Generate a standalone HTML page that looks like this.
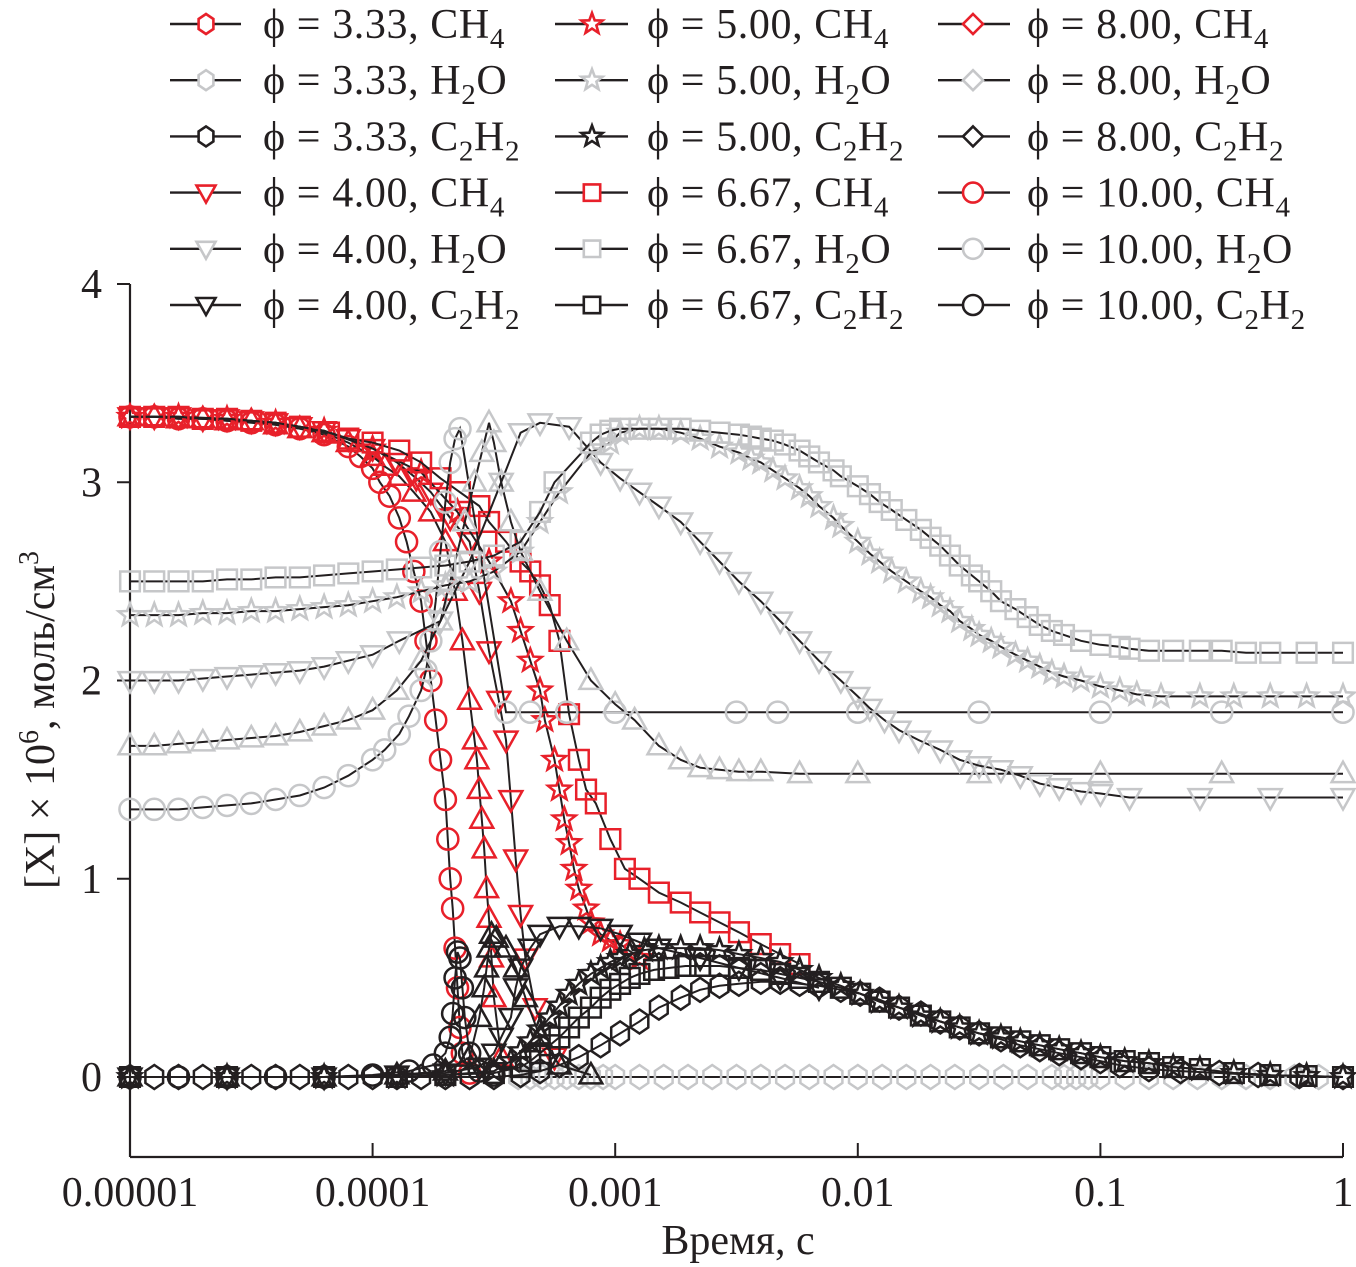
<!DOCTYPE html>
<html><head><meta charset="utf-8"><style>
body{margin:0;background:#fff;}
svg{display:block;font-family:"Liberation Serif",serif;}
</style></head><body>
<svg id="chart" width="1356" height="1267" viewBox="0 0 1356 1267" xmlns="http://www.w3.org/2000/svg">
<g id="legend"></g>
<g id="axes"></g>
<g id="plot"></g>
</svg>
<script>
// x values: log10(time, s)
const yTicks=[0,1,2,3,4];
const xTickLabels=["0.00001","0.0001","0.001","0.01","0.1","1"];
const xTickLg=[-5,-4,-3,-2,-1,0];

const ch4_100_t=[-5,-4.9,-4.8,-4.7,-4.6,-4.5,-4.4,-4.3,-4.2,-4.1,-4.05,-4.0,-3.97,-3.93,-3.89,-3.86,-3.83,-3.80,-3.78,-3.76,-3.74,-3.72,-3.70,-3.69,-3.68,-3.67,-3.66,-3.65,-3.64,-3.63,-3.60];
const ch4_100_v=[3.33,3.33,3.32,3.32,3.31,3.30,3.29,3.27,3.24,3.18,3.13,3.07,3.0,2.93,2.82,2.7,2.55,2.4,2.2,2.0,1.8,1.6,1.4,1.2,1.0,0.85,0.65,0.45,0.25,0.12,0.02];
const ch4_80_t=[-5,-4.9,-4.8,-4.7,-4.6,-4.5,-4.4,-4.3,-4.2,-4.1,-4.0,-3.95,-3.89,-3.83,-3.76,-3.70,-3.66,-3.63,-3.60,-3.58,-3.57,-3.56,-3.55,-3.54,-3.53,-3.52,-3.51,-3.50,-3.47];
const ch4_80_v=[3.33,3.33,3.32,3.32,3.31,3.31,3.29,3.27,3.25,3.2,3.13,3.08,3.03,2.95,2.85,2.7,2.45,2.2,1.9,1.7,1.6,1.45,1.3,1.15,0.95,0.8,0.6,0.4,0.1];
const ch4_40_t=[-5,-4.9,-4.8,-4.7,-4.6,-4.5,-4.4,-4.3,-4.2,-4.1,-4.0,-3.9,-3.82,-3.76,-3.68,-3.60,-3.56,-3.52,-3.48,-3.45,-3.43,-3.41,-3.39,-3.37,-3.33,-3.25];
const ch4_40_v=[3.33,3.33,3.33,3.32,3.32,3.31,3.3,3.28,3.26,3.22,3.17,3.1,3.02,2.95,2.82,2.7,2.45,2.15,1.9,1.7,1.4,1.1,0.82,0.6,0.35,0.1];
const ch4_50_t=[-5,-4.8,-4.6,-4.4,-4.2,-4.0,-3.8,-3.65,-3.52,-3.43,-3.39,-3.35,-3.31,-3.29,-3.25,-3.23,-3.21,-3.19,-3.17,-3.15,-3.12,-3.10,-3.06,-3.02,-2.98,-2.9];
const ch4_50_v=[3.33,3.33,3.32,3.3,3.26,3.17,3.05,2.85,2.6,2.4,2.25,2.1,1.95,1.8,1.6,1.45,1.3,1.18,1.05,0.95,0.85,0.78,0.72,0.69,0.67,0.6];
const ch4_67_t=[-5,-4.9,-4.8,-4.7,-4.6,-4.5,-4.4,-4.3,-4.18,-4.1,-4.0,-3.89,-3.8,-3.72,-3.64,-3.56,-3.52,-3.45,-3.39,-3.35,-3.31,-3.27,-3.23,-3.19,-3.15,-3.12,-3.08,-3.02,-2.96,-2.90,-2.82,-2.73,-2.65,-2.57,-2.49,-2.40,-2.32,-2.24];
const ch4_67_v=[3.33,3.33,3.33,3.32,3.32,3.31,3.3,3.28,3.25,3.22,3.2,3.16,3.1,3.02,2.95,2.88,2.8,2.7,2.6,2.55,2.48,2.38,2.2,1.83,1.6,1.45,1.38,1.2,1.05,1.0,0.93,0.88,0.83,0.78,0.73,0.67,0.62,0.57];

const h2o_100_t=[-5,-4.9,-4.8,-4.7,-4.6,-4.5,-4.4,-4.3,-4.2,-4.1,-4.0,-3.95,-3.89,-3.85,-3.80,-3.78,-3.76,-3.74,-3.72,-3.70,-3.68,-3.66,-3.64,-3.45,-3.35,-3.2,-3.0,-2.5,-2.33,-2.0,-1.5,-1.0,-0.5,0];
const h2o_100_v=[1.35,1.35,1.35,1.36,1.37,1.38,1.4,1.42,1.46,1.52,1.6,1.65,1.73,1.82,1.95,2.05,2.2,2.4,2.65,2.9,3.1,3.22,3.27,1.84,1.84,1.84,1.84,1.84,1.84,1.84,1.84,1.84,1.84,1.84];
const h2o_80_t=[-5,-4.9,-4.8,-4.7,-4.6,-4.5,-4.4,-4.3,-4.2,-4.1,-4.0,-3.9,-3.8,-3.72,-3.68,-3.62,-3.58,-3.55,-3.52,-3.50,-3.47,-3.43,-3.39,-3.31,-3.2,-3.1,-3.0,-2.92,-2.82,-2.73,-2.65,-2.57,-2.49,-2.4,-2.24,-2.0,-1.5,-1.0,-0.5,0];
const h2o_80_v=[1.67,1.67,1.68,1.69,1.7,1.71,1.72,1.74,1.77,1.8,1.85,1.95,2.1,2.3,2.5,2.8,3.0,3.15,3.3,3.2,3.0,2.8,2.65,2.45,2.2,2.0,1.88,1.8,1.67,1.6,1.56,1.55,1.54,1.54,1.53,1.53,1.53,1.53,1.53,1.53];
const h2o_40_t=[-5,-4.9,-4.8,-4.7,-4.6,-4.5,-4.4,-4.3,-4.2,-4.1,-4.0,-3.89,-3.72,-3.60,-3.47,-3.39,-3.31,-3.19,-3.06,-2.98,-2.90,-2.82,-2.73,-2.65,-2.57,-2.49,-2.40,-2.32,-2.24,-2.16,-2.07,-2.0,-1.95,-1.89,-1.83,-1.75,-1.66,-1.58,-1.5,-1.41,-1.33,-1.25,-1.17,-1.08,-1.0,-0.88,-0.59,-0.3,0];
const h2o_40_v=[2.0,2.0,2.0,2.01,2.02,2.03,2.04,2.05,2.07,2.1,2.13,2.2,2.3,2.6,3.0,3.25,3.3,3.28,3.1,3.02,2.95,2.88,2.8,2.7,2.6,2.5,2.4,2.3,2.2,2.1,2.0,1.92,1.86,1.8,1.75,1.7,1.65,1.6,1.57,1.55,1.52,1.48,1.46,1.44,1.43,1.41,1.41,1.41,1.41];
const h2o_50_t=[-5,-4.9,-4.8,-4.7,-4.6,-4.5,-4.4,-4.3,-4.2,-4.1,-4.0,-3.9,-3.8,-3.7,-3.6,-3.5,-3.39,-3.31,-3.23,-3.10,-3.02,-2.98,-2.9,-2.82,-2.73,-2.65,-2.57,-2.49,-2.44,-2.40,-2.35,-2.3,-2.24,-2.2,-2.16,-2.1,-2.07,-2.0,-1.95,-1.91,-1.86,-1.8,-1.74,-1.7,-1.66,-1.62,-1.58,-1.53,-1.5,-1.45,-1.41,-1.35,-1.3,-1.25,-1.2,-1.15,-1.08,-1.0,-0.92,-0.85,-0.75,-0.59,-0.45,-0.3,-0.15,0];
const h2o_50_v=[2.33,2.33,2.33,2.34,2.34,2.35,2.35,2.36,2.37,2.38,2.4,2.42,2.45,2.48,2.5,2.55,2.65,2.8,2.95,3.15,3.2,3.25,3.27,3.27,3.25,3.22,3.18,3.15,3.12,3.1,3.06,3.02,2.97,2.93,2.88,2.82,2.78,2.7,2.64,2.6,2.55,2.5,2.45,2.42,2.38,2.35,2.3,2.26,2.23,2.2,2.17,2.13,2.1,2.07,2.04,2.02,2.0,1.97,1.95,1.93,1.92,1.92,1.92,1.92,1.92,1.92];
const h2o_67_t=[-5,-4.9,-4.8,-4.7,-4.6,-4.5,-4.4,-4.3,-4.2,-4.1,-4.0,-3.9,-3.8,-3.7,-3.6,-3.5,-3.39,-3.31,-3.25,-3.10,-3.06,-3.02,-2.98,-2.9,-2.82,-2.73,-2.65,-2.57,-2.49,-2.44,-2.40,-2.35,-2.3,-2.24,-2.2,-2.16,-2.1,-2.07,-2.0,-1.95,-1.91,-1.86,-1.8,-1.74,-1.7,-1.66,-1.62,-1.58,-1.53,-1.5,-1.45,-1.41,-1.35,-1.3,-1.25,-1.2,-1.15,-1.08,-1.0,-0.92,-0.88,-0.8,-0.7,-0.59,-0.5,-0.4,-0.3,-0.15,0];
const h2o_67_v=[2.5,2.5,2.5,2.5,2.51,2.51,2.52,2.52,2.53,2.54,2.55,2.56,2.57,2.58,2.6,2.63,2.7,2.85,3.0,3.2,3.24,3.26,3.27,3.27,3.27,3.27,3.26,3.25,3.24,3.23,3.22,3.21,3.19,3.16,3.13,3.1,3.06,3.03,2.98,2.94,2.9,2.86,2.81,2.76,2.72,2.68,2.63,2.58,2.53,2.5,2.45,2.4,2.36,2.32,2.28,2.25,2.23,2.2,2.18,2.17,2.16,2.15,2.15,2.15,2.15,2.14,2.14,2.14,2.14];
const h2o_33_t=[-3.4,-3.35,-3.3,-3.25,-3.2,-3.15,-3.1,-3.05,-3.0,-2.9,-2.8,-2.7,-2.6,-2.5,-2.4,-2.3,-2.2,-2.1,-2.0,-1.9,-1.8,-1.7,-1.6,-1.5,-1.4,-1.3,-1.2,-1.15,-1.1,-1.05,-1.0,-0.9,-0.8,-0.7,-0.6,-0.5,-0.4,-0.3,-0.2,-0.1,0];
const h2o_33_v=[0,0,0,0,0,0,0,0,0,0,0,0,0,0,0,0,0,0,0,0,0,0,0,0,0,0,0,0,0,0,0,0,0,0,0,0,0,0,0,0,0];

const c2h2_100_t=[-5,-4.8,-4.6,-4.4,-4.2,-4.0,-3.85,-3.75,-3.70,-3.68,-3.67,-3.66,-3.65,-3.64,-3.63,-3.62,-3.60,-3.56,-3.5];
const c2h2_100_v=[0,0,0,0,0,0.01,0.03,0.06,0.12,0.2,0.32,0.5,0.63,0.6,0.45,0.3,0.12,0.03,0.01];
const c2h2_80_t=[-5,-4.6,-4.2,-3.9,-3.7,-3.6,-3.56,-3.54,-3.53,-3.52,-3.51,-3.49,-3.45,-3.41,-3.37,-3.31,-3.23,-3.1];
const c2h2_80_v=[0,0,0,0.01,0.03,0.1,0.3,0.45,0.55,0.65,0.72,0.7,0.65,0.55,0.4,0.2,0.06,0.01];
const c2h2_40_t=[-5,-4.6,-4.2,-3.9,-3.7,-3.56,-3.50,-3.47,-3.43,-3.41,-3.39,-3.35,-3.31,-3.23,-3.15,-3.06,-2.98,-2.90,-2.82,-2.65,-2.49,-2.32,-2.16];
const c2h2_40_v=[0,0,0,0.01,0.02,0.05,0.12,0.2,0.3,0.45,0.55,0.65,0.72,0.76,0.76,0.75,0.72,0.68,0.65,0.6,0.55,0.5,0.45];
const c2h2_50_t=[-5,-4.6,-4.2,-3.9,-3.7,-3.5,-3.43,-3.39,-3.35,-3.31,-3.27,-3.23,-3.19,-3.15,-3.10,-3.06,-3.02,-2.98,-2.94,-2.88,-2.82,-2.73,-2.65,-2.57,-2.49,-2.4,-2.32,-2.24,-2.16,-2.07,-1.99,-1.91,-1.83,-1.74,-1.66,-1.58,-1.5,-1.41,-1.33,-1.25,-1.17,-1.08,-1.0,-0.9,-0.8,-0.7,-0.59,-0.45,-0.3,-0.15,0];
const c2h2_50_v=[0,0,0,0,0.01,0.03,0.08,0.13,0.18,0.24,0.3,0.36,0.42,0.47,0.52,0.55,0.58,0.6,0.62,0.64,0.65,0.65,0.65,0.64,0.62,0.6,0.58,0.54,0.5,0.46,0.42,0.38,0.35,0.31,0.28,0.25,0.22,0.2,0.18,0.16,0.14,0.12,0.1,0.08,0.07,0.05,0.04,0.02,0.01,0.005,0];
const c2h2_67_t=[-5,-4.6,-4.2,-3.9,-3.7,-3.5,-3.39,-3.35,-3.31,-3.27,-3.23,-3.19,-3.15,-3.10,-3.06,-3.02,-2.98,-2.94,-2.90,-2.84,-2.78,-2.71,-2.65,-2.57,-2.49,-2.4,-2.32,-2.24,-2.16,-2.07,-1.99,-1.91,-1.83,-1.74,-1.66,-1.58,-1.5,-1.41,-1.33,-1.25,-1.17,-1.08,-1.0,-0.9,-0.8,-0.7,-0.59,-0.45,-0.3,-0.15,0];
const c2h2_67_v=[0,0,0,0,0.01,0.02,0.05,0.08,0.12,0.16,0.2,0.25,0.3,0.35,0.4,0.44,0.47,0.5,0.52,0.54,0.55,0.56,0.56,0.56,0.55,0.54,0.52,0.5,0.48,0.45,0.42,0.38,0.35,0.31,0.28,0.25,0.22,0.2,0.18,0.16,0.14,0.12,0.1,0.08,0.07,0.05,0.04,0.02,0.01,0.005,0];
const c2h2_33_t=[-5,-4.9,-4.8,-4.7,-4.6,-4.5,-4.4,-4.3,-4.2,-4.1,-4.0,-3.9,-3.8,-3.7,-3.6,-3.5,-3.39,-3.31,-3.23,-3.15,-3.06,-2.98,-2.90,-2.82,-2.73,-2.65,-2.57,-2.49,-2.40,-2.32,-2.24,-2.16,-2.07,-1.99,-1.91,-1.83,-1.74,-1.66,-1.58,-1.50,-1.41,-1.33,-1.25,-1.17,-1.08,-1.0,-0.92,-0.80,-0.67,-0.51,-0.35,-0.18,0];
const c2h2_33_v=[0,0,0,0,0,0,0,0,0,0,0,0,0,0,0,0,0.01,0.03,0.06,0.1,0.16,0.22,0.28,0.35,0.4,0.44,0.46,0.47,0.48,0.48,0.47,0.46,0.44,0.42,0.39,0.35,0.32,0.28,0.25,0.22,0.19,0.16,0.14,0.12,0.1,0.08,0.06,0.04,0.03,0.02,0.01,0.005,0];

const X0=130,X1=1343,Y0=1077,YU=198.25;
function xS(lg){return X0+(lg+5)*(X1-X0)/5;}
function yS(v){return Y0-v*YU;}
const NS="http://www.w3.org/2000/svg";
function mk(tag,attrs,parent){const e=document.createElementNS(NS,tag);for(const k in attrs)e.setAttribute(k,attrs[k]);parent.appendChild(e);return e;}

function markerPath(type,cx,cy,r){
  let pts=[];
  if(type==='hex'){for(let i=0;i<6;i++){const a=Math.PI/2+i*Math.PI/3;pts.push([cx+r*0.85*Math.cos(a),cy-r*Math.sin(a)]);}}
  else if(type==='tu'){pts=[[cx,cy-r],[cx+r*0.95,cy+r*0.7],[cx-r*0.95,cy+r*0.7]];}
  else if(type==='td'){pts=[[cx,cy+r],[cx+r*0.95,cy-r*0.7],[cx-r*0.95,cy-r*0.7]];}
  else if(type==='sq'){const s=r*0.82;pts=[[cx-s,cy-s],[cx+s,cy-s],[cx+s,cy+s],[cx-s,cy+s]];}
  else if(type==='dia'){pts=[[cx,cy-r],[cx+r,cy],[cx,cy+r],[cx-r,cy]];}
  else if(type==='star'){for(let i=0;i<10;i++){const a=Math.PI/2+i*Math.PI/5;const rr=i%2?r*0.42:r;pts.push([cx+rr*Math.cos(a),cy-rr*Math.sin(a)]);}}
  return 'M'+pts.map(p=>p[0].toFixed(1)+','+p[1].toFixed(1)).join('L')+'Z';
}
function drawMarker(g,type,cx,cy,r,color,sw){
  if(type==='circ'){return mk('circle',{cx:cx,cy:cy,r:r*0.88,fill:'none',stroke:color,'stroke-width':sw},g);}
  return mk('path',{d:markerPath(type,cx,cy,r),fill:'none',stroke:color,'stroke-width':sw,'stroke-linejoin':'miter'},g);
}

const RED='#e8202a',GRAY='#c6c7c9',BLK='#231f20';
const plot=document.getElementById('plot');
const seriesList=[
 ['ch4-phi-10.00',ch4_100_t,ch4_100_v,'circ',RED],
 ['ch4-phi-8.00',ch4_80_t,ch4_80_v,'tu',RED],
 ['ch4-phi-4.00',ch4_40_t,ch4_40_v,'td',RED],
 ['ch4-phi-5.00',ch4_50_t,ch4_50_v,'star',RED],
 ['ch4-phi-6.67',ch4_67_t,ch4_67_v,'sq',RED],
 ['h2o-phi-3.33',h2o_33_t,h2o_33_v,'hex',GRAY],
 ['h2o-phi-10.00',h2o_100_t,h2o_100_v,'circ',GRAY],
 ['h2o-phi-8.00',h2o_80_t,h2o_80_v,'tu',GRAY],
 ['h2o-phi-4.00',h2o_40_t,h2o_40_v,'td',GRAY],
 ['h2o-phi-5.00',h2o_50_t,h2o_50_v,'star',GRAY],
 ['h2o-phi-6.67',h2o_67_t,h2o_67_v,'sq',GRAY],
 ['c2h2-phi-10.00',c2h2_100_t,c2h2_100_v,'circ',BLK],
 ['c2h2-phi-8.00',c2h2_80_t,c2h2_80_v,'tu',BLK],
 ['c2h2-phi-4.00',c2h2_40_t,c2h2_40_v,'td',BLK],
 ['c2h2-phi-5.00',c2h2_50_t,c2h2_50_v,'star',BLK],
 ['c2h2-phi-6.67',c2h2_67_t,c2h2_67_v,'sq',BLK],
 ['c2h2-phi-3.33',c2h2_33_t,c2h2_33_v,'hex',BLK]
];
seriesList.forEach(s=>{
  const [name,ts,vs,type,col]=s;
  const g=mk('g',{},plot);
  
  
  const ln=mk('polyline',{points:ts.map((t,i)=>xS(t).toFixed(1)+','+yS(vs[i]).toFixed(1)).join(' '),fill:'none',stroke:BLK,'stroke-width':2},g);
  
  
  ts.forEach((t,i)=>{
    const m=drawMarker(g,type,xS(t),yS(vs[i]),12,col,2.5);
    
    
  });
});

// axes
const ax=document.getElementById('axes');
const yl=mk('line',{x1:X0,y1:284,x2:X0,y2:1157,stroke:BLK,'stroke-width':2.2},ax);

const xl=mk('line',{x1:X0,y1:1157,x2:X1,y2:1157,stroke:BLK,'stroke-width':2.2},ax);

yTicks.forEach(v=>{
  mk('line',{x1:117,y1:yS(v),x2:X0,y2:yS(v),stroke:BLK,'stroke-width':2},ax);
  const t=mk('text',{x:102,y:yS(v)+14,'font-size':42,'text-anchor':'end',fill:BLK},ax);
  t.textContent=v;
  
  
});
xTickLg.forEach((lg,i)=>{
  mk('line',{x1:xS(lg),y1:1143,x2:xS(lg),y2:1157,stroke:BLK,'stroke-width':2},ax);
  const t=mk('text',{x:xS(lg),y:1206,'font-size':42,'text-anchor':'middle',fill:BLK},ax);
  t.textContent=xTickLabels[i];
  
  
});
const xt=mk('text',{x:738,y:1254,'font-size':42,'text-anchor':'middle',fill:BLK},ax);
xt.textContent='Время, с';

const yt=mk('text',{x:0,y:0,'font-size':42,'text-anchor':'middle',fill:BLK,transform:'translate(54,720) rotate(-90)'},ax);
yt.innerHTML='[X] × 10<tspan font-size="28" dy="-16">6</tspan><tspan dy="16">, моль/см</tspan><tspan font-size="28" dy="-16">3</tspan>';


// legend
const lg=document.getElementById('legend');
const cols=[[170,241,206,263],[555,628,592,647],[938,1010,973,1027]];
const phis=[['3.33','hex'],['4.00','td'],['5.00','star'],['6.67','sq'],['8.00','dia'],['10.00','circ']];
const species=[['CH','4','',RED],['H','2','O',GRAY],['C','2','H2',BLK]];
phis.forEach((p,pi)=>{
  const c=cols[Math.floor(pi/2)];
  species.forEach((sp,si)=>{
    const row=(pi%2)*3+si;const y=24+row*56.2;
    const g=mk('g',{},lg);
    
    
    mk('line',{x1:c[0],y1:y,x2:c[1],y2:y,stroke:BLK,'stroke-width':2.4},g);
    if(p[1]==='circ'){mk('circle',{cx:c[2],cy:y,r:10,fill:'#fff',stroke:sp[3],'stroke-width':2.6},g);}
    else mk('path',{d:markerPath(p[1],c[2],y,p[1]==='star'?11:10),fill:'#fff',stroke:sp[3],'stroke-width':2.6},g);
    const t=mk('text',{x:c[3],y:y+14,'font-size':42,'letter-spacing':0.6,fill:BLK},g);
    let sub='';
    if(si===2) sub='C<tspan font-size="29" dy="10">2</tspan><tspan dy="-10">H</tspan><tspan font-size="29" dy="10">2</tspan>';
    else if(si===1) sub='H<tspan font-size="29" dy="10">2</tspan><tspan dy="-10">O</tspan>';
    else sub='CH<tspan font-size="29" dy="10">4</tspan>';
    t.innerHTML='ϕ = '+p[0]+', '+sub;
  });
});
</script>
</body></html>
